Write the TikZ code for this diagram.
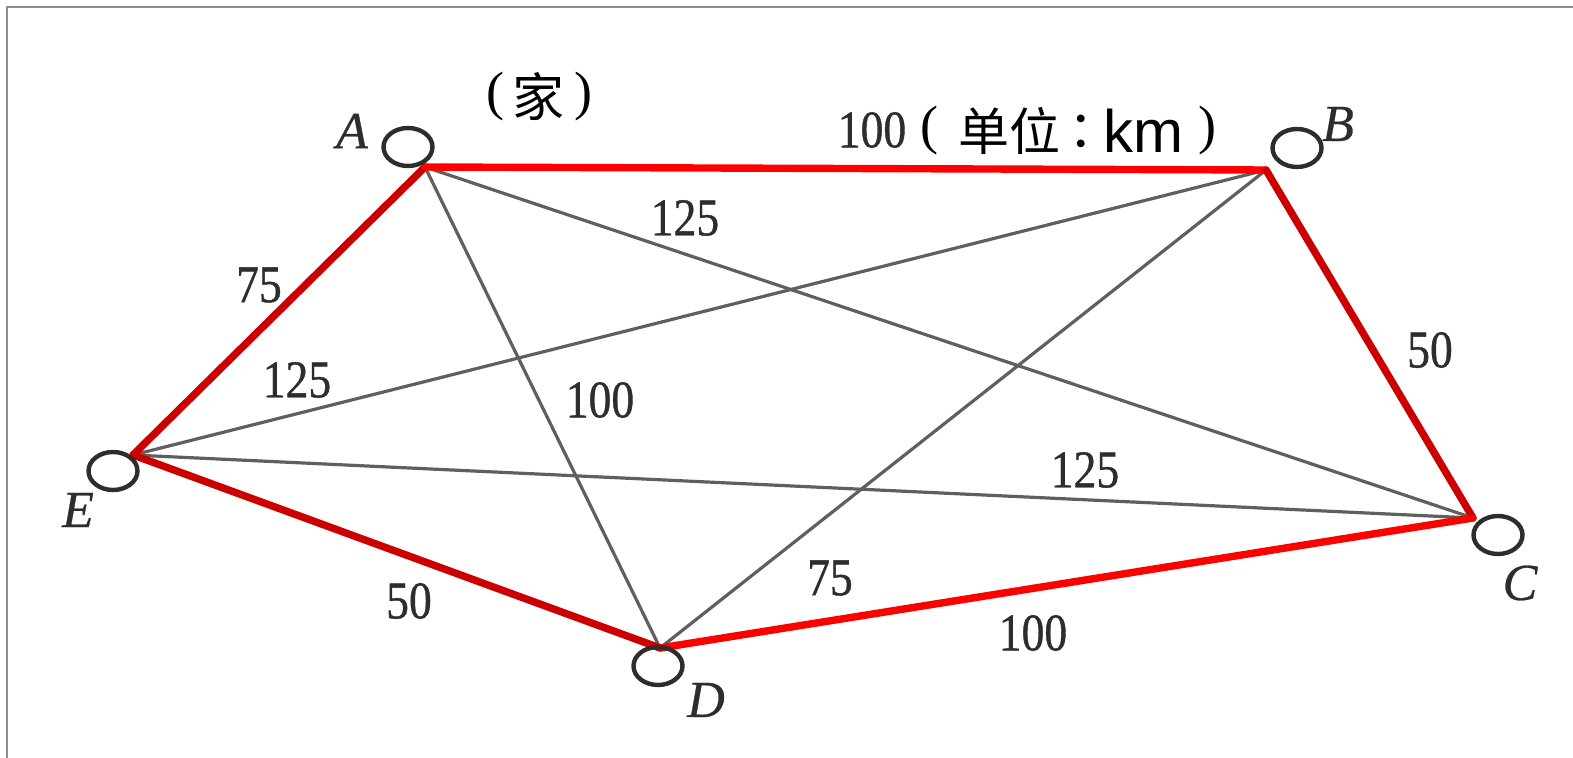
\documentclass[tikz,border=0pt]{standalone}
\usepackage{fontspec}
\setmainfont{Liberation Serif}
\newfontfamily\numfont[FakeBold=0.8]{Liberation Serif}
\newfontfamily\letfont[FakeBold=0.5]{Liberation Serif}
\newfontfamily\cjkfont{Noto Sans CJK SC}
\newfontfamily\arialfont{Liberation Sans}
\usetikzlibrary{shapes.geometric}
\definecolor{brightred}{RGB}{255,0,0}
\definecolor{darkred}{RGB}{204,0,0}
\definecolor{edgegray}{RGB}{95,95,95}
\definecolor{txtgray}{RGB}{45,45,45}
\definecolor{framegray}{RGB}{140,140,140}
\tikzset{
  redA/.style={draw=brightred, line width=3.7pt, line cap=round, line join=round},
  redB/.style={draw=darkred, line width=3.7pt, line cap=round, line join=round},
  grayedge/.style={draw=edgegray, line width=1.6pt},
  station/.style={ellipse, draw=txtgray, line width=2.2pt, minimum width=24.5pt, minimum height=19pt, inner sep=0pt},
  vlabel/.style={text=txtgray, inner sep=0pt, font=\fontsize{26}{30}\letfont\itshape},
  num/.style={text=txtgray, inner sep=0pt, font=\fontsize{26.5}{30}\numfont},
  cjk/.style={inner sep=0pt, font=\fontsize{25.5}{30}\cjkfont},
  paren/.style={inner sep=0pt, font=\fontsize{27}{30}\selectfont},
}
\newcommand{\nm}[1]{\scalebox{0.86}[1]{#1}}
\begin{document}
\begin{tikzpicture}[x=0.5pt,y=-0.5pt]
\useasboundingbox (0,0) rectangle (1573,758);
% frame
\draw[framegray, line width=1pt] (7,758) -- (7,7) -- (1573,7);
% junction points
\coordinate (A) at (425,167);
\coordinate (B) at (1266,170);
\coordinate (C) at (1473,518);
\coordinate (D) at (660,648);
\coordinate (E) at (133,455);
% gray edges
\draw[grayedge] (A) -- (C);
\draw[grayedge] (A) -- (D);
\draw[grayedge] (B) -- (E);
\draw[grayedge] (B) -- (D);
\draw[grayedge] (E) -- (C);
% red edges
\draw[redB] (E) -- (A);
\draw[redA] (A) -- (B);
\draw[redB] (B) -- (C);
\draw[redA] (C) -- (D);
\draw[redB] (D) -- (E);
% stations
\node[station] (sA) at (408,147) {};
\node[station] (sB) at (1297,148) {};
\node[station] (sC) at (1498,535) {};
\node[station] (sD) at (658,666) {};
\node[station] (sE) at (113,471) {};
% vertex labels
\node[vlabel] (lA) at (352,131) {A};
\node[vlabel] (lB) at (1338,124) {B};
\node[vlabel] (lC) at (1520,583) {C};
\node[vlabel] (lD) at (706,700) {D};
\node[vlabel] (lE) at (78,510) {E};
% distance labels
\node[num] (n1) at (259,285) {\nm{75}};
\node[num] (n2) at (297,380) {\nm{125}};
\node[num] (n3) at (685,218) {\nm{125}};
\node[num] (n4) at (600,400) {\nm{100}};
\node[num] (n5) at (1430,350) {\nm{50}};
\node[num] (n6) at (1085,470) {\nm{125}};
\node[num] (n7) at (830,578) {\nm{75}};
\node[num] (n8) at (409,601) {\nm{50}};
\node[num] (n9) at (1033,633) {\nm{100}};
\node[num] (n10) at (872,130) {\nm{100}};
% unit text
\node[paren] (uL) at (929,131) {(};
\node[cjk, anchor=west] (uT) at (958,131) {单位};
\node[cjk, anchor=west] (uC) at (1068,131) {：};
\node[inner sep=0pt, anchor=west, font=\fontsize{30}{30}\arialfont] (uK) at (1103,131) {km};
\node[paren] (uR) at (1207,131) {)};
% home text
\node[paren] (hL) at (495,97) {(};
\node[cjk, font=\fontsize{26}{30}\cjkfont] (hT) at (538,97) {家};
\node[paren] (hR) at (583,97) {)};
\end{tikzpicture}
\end{document}
